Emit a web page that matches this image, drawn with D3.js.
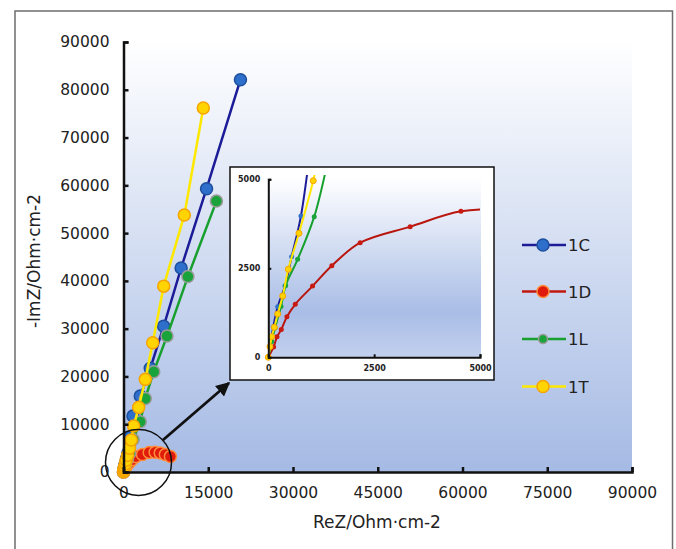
<!DOCTYPE html>
<html>
<head>
<meta charset="utf-8">
<script src="https://cdn.jsdelivr.net/npm/d3@7"></script>
<style>
  body { margin: 0; background: #fff; }
  svg text { font-family: "DejaVu Sans", sans-serif; fill: #222; }
</style>
</head>
<body>
<script>
// series names and colours
var names = ['1C', '1D', '1L', '1T'];
var lineColors = ['#1c1c99', '#c0180f', '#17a02e', '#ffe800'];
var dotFill = ['#2d6fca', '#e01b0b', '#1aa33b', '#ffd400'];
var dotStroke = ['#1e4f9e', '#ff8c3a', '#9a9a9a', '#f5a400'];

// [ReZ, -ImZ]
var s1C = [[0,0],[64,486],[118,860],[222,1421],[394,2003],[551,2826],[771,3970],[1150,7300],[1680,11700],[2970,15900],[4740,21700],[7110,30500],[10200,42700],[14700,59300],[20700,82100]];
var s1D = [[0,0],[125,290],[205,575],[307,780],[440,1140],[637,1490],[1045,2000],[1500,2570],[2170,3220],[3350,3670],[4550,4100],[5600,4150],[6500,4000],[7400,3650],[8300,3250]];
var s1L = [[0,0],[80,441],[158,820],[300,1430],[410,2014],[693,2753],[1085,3950],[1700,6800],[2970,10500],[3860,15400],[5350,21000],[7700,28450],[11400,40900],[16450,56700]];
var s1T = [[0,0],[40,298],[80,579],[142,843],[222,1216],[340,1722],[472,2472],[724,3483],[1061,4961],[1380,6690],[1800,9620],[2690,13530],[3860,19390],[5170,27050],[7115,38900],[10760,53770],[14125,76200]];
var allSeries = [s1C, s1D, s1L, s1T];

// tick values
var mainTicksX = [0, 15000, 30000, 45000, 60000, 75000, 90000];
var mainTicksY = [0, 10000, 20000, 30000, 40000, 50000, 60000, 70000, 80000, 90000];
var insetTicks = [0, 2500, 5000];

var svg = d3.select('body').append('svg').attr('width', 676).attr('height', 549);

// gradients
var defs = svg.append('defs');
var g1 = defs.append('linearGradient').attr('id', 'bgMain').attr('x1', 0).attr('y1', 0).attr('x2', 0).attr('y2', 1);
g1.append('stop').attr('offset', 0).attr('stop-color', '#ffffff');
g1.append('stop').attr('offset', 1).attr('stop-color', '#a5bae4');
var g2 = defs.append('linearGradient').attr('id', 'bgInset').attr('x1', 0).attr('y1', 0).attr('x2', 0).attr('y2', 1);
g2.append('stop').attr('offset', 0).attr('stop-color', '#ffffff');
g2.append('stop').attr('offset', 0.75).attr('stop-color', '#a9bde6');
g2.append('stop').attr('offset', 1).attr('stop-color', '#c2d0ee');

// outer frame
svg.append('rect').attr('x', 15).attr('y', 11).attr('width', 657.5).attr('height', 560)
  .attr('fill', 'none').attr('stroke', '#6e6e6e').attr('stroke-width', 1.5);

// main scales
var x = d3.scaleLinear().domain([0, 90000]).range([123.5, 632]);
var y = d3.scaleLinear().domain([0, 90000]).range([472, 42]);

svg.append('rect').attr('x', x(0)).attr('y', 40).attr('width', x(90000) - x(0)).attr('height', y(0) - 40)
  .attr('fill', 'url(#bgMain)');

var line = d3.line().x(function(d){ return x(d[0]); }).y(function(d){ return y(d[1]); });

for (var i = 0; i < allSeries.length; i++) {
  svg.append('path').attr('d', line(allSeries[i])).attr('fill', 'none')
    .attr('stroke', lineColors[i]).attr('stroke-width', 2.5);
  svg.append('g').selectAll('circle').data(allSeries[i]).enter().append('circle')
    .attr('cx', function(d){ return x(d[0]); })
    .attr('cy', function(d){ return y(d[1]); })
    .attr('r', 6)
    .attr('fill', dotFill[i]).attr('stroke', dotStroke[i]).attr('stroke-width', 1.5);
}

// axes
var xAxis = svg.append('g').attr('transform', 'translate(0,' + y(0) + ')')
  .call(d3.axisBottom(x).tickValues(mainTicksX).tickSize(-5).tickPadding(15).tickFormat(d3.format('d')));
var yAxis = svg.append('g').attr('transform', 'translate(' + x(0) + ',0)')
  .call(d3.axisLeft(y).tickValues(mainTicksY).tickSize(-5).tickPadding(14).tickFormat(d3.format('d')));
[xAxis, yAxis].forEach(function(a){
  a.select('.domain').attr('stroke', '#111').attr('stroke-width', 2.5);
  a.selectAll('.tick line').attr('stroke', '#111').attr('stroke-width', 2.5);
  a.selectAll('text').attr('font-size', 15.5).attr('fill', '#222').attr('font-family', '"DejaVu Sans", sans-serif');
});

svg.append('text').attr('x', 377).attr('y', 528).attr('text-anchor', 'middle')
  .attr('font-size', 17).text('ReZ/Ohm·cm-2');
svg.append('text').attr('transform', 'translate(40,261) rotate(-90)').attr('text-anchor', 'middle')
  .attr('font-size', 17).text('-ImZ/Ohm·cm-2');

// zoom circle and arrow
svg.append('circle').attr('cx', 138.5).attr('cy', 462.5).attr('r', 33)
  .attr('fill', 'none').attr('stroke', '#111').attr('stroke-width', 1.5);
defs.append('marker').attr('id', 'head').attr('viewBox', '0 0 10 10').attr('refX', 9).attr('refY', 5)
  .attr('markerWidth', 5).attr('markerHeight', 5).attr('orient', 'auto')
  .append('path').attr('d', 'M0,0 L10,5 L0,10 Z').attr('fill', '#111');
svg.append('line').attr('x1', 163).attr('y1', 440).attr('x2', 229).attr('y2', 383)
  .attr('stroke', '#111').attr('stroke-width', 2.8).attr('marker-end', 'url(#head)');

// inset
svg.append('rect').attr('x', 230).attr('y', 167).attr('width', 264).attr('height', 213)
  .attr('fill', '#fff').attr('stroke', '#111').attr('stroke-width', 1.5);
var ix = d3.scaleLinear().domain([0, 5000]).range([268.3, 480]);
var iy = d3.scaleLinear().domain([0, 5000]).range([357.3, 179.3]);
svg.append('rect').attr('x', ix(0)).attr('y', 177).attr('width', ix(5000) - ix(0) + 1).attr('height', iy(0) - 177)
  .attr('fill', 'url(#bgInset)');
defs.append('clipPath').attr('id', 'insetClip').append('rect')
  .attr('x', ix(0) - 4).attr('y', 175).attr('width', ix(5000) - ix(0) + 4).attr('height', iy(0) - 175 + 4);

var iline = d3.line().curve(d3.curveCatmullRom).x(function(d){ return ix(d[0]); }).y(function(d){ return iy(d[1]); });
var ig = svg.append('g').attr('clip-path', 'url(#insetClip)');
for (var j = 0; j < allSeries.length; j++) {
  ig.append('path').attr('d', iline(allSeries[j])).attr('fill', 'none')
    .attr('stroke', lineColors[j] == '#c0180f' ? '#b8160e' : lineColors[j]).attr('stroke-width', 2);
  ig.append('g').selectAll('circle').data(allSeries[j].filter(function(d){ return d[0] <= 5000 && d[1] <= 5000; }))
    .enter().append('circle')
    .attr('cx', function(d){ return ix(d[0]); })
    .attr('cy', function(d){ return iy(d[1]); })
    .attr('r', j == 3 ? 3 : 2.5)
    .attr('fill', j == 1 ? '#c81a10' : dotFill[j]).attr('stroke', j == 3 ? '#f5a400' : 'none').attr('stroke-width', 1);
}
var ixAxis = svg.append('g').attr('transform', 'translate(0,' + iy(0) + ')')
  .call(d3.axisBottom(ix).tickValues(insetTicks).tickSize(-3).tickPadding(8).tickFormat(d3.format('d')));
var iyAxis = svg.append('g').attr('transform', 'translate(' + ix(0) + ',0)')
  .call(d3.axisLeft(iy).tickValues(insetTicks).tickSize(-3).tickPadding(8).tickFormat(d3.format('d')));
[ixAxis, iyAxis].forEach(function(a){
  a.select('.domain').attr('stroke', '#111').attr('stroke-width', 2);
  a.selectAll('.tick line').attr('stroke', '#111').attr('stroke-width', 2);
  a.selectAll('text').attr('font-size', 8).attr('font-weight', 'bold').attr('fill', '#333')
    .attr('font-family', '"DejaVu Sans", sans-serif');
});

// legend
var legY = [245, 291.5, 339, 386.5];
for (var k = 0; k < names.length; k++) {
  svg.append('line').attr('x1', 522).attr('x2', 566).attr('y1', legY[k]).attr('y2', legY[k])
    .attr('stroke', lineColors[k]).attr('stroke-width', 2.5);
  svg.append('circle').attr('cx', 543).attr('cy', legY[k]).attr('r', k == 2 ? 4.5 : 6)
    .attr('fill', dotFill[k]).attr('stroke', dotStroke[k]).attr('stroke-width', 1.5);
  svg.append('text').attr('x', 568).attr('y', legY[k] + 6).attr('font-size', 16.5).attr('fill', '#333').text(names[k]);
}
</script>
</body>
</html>
